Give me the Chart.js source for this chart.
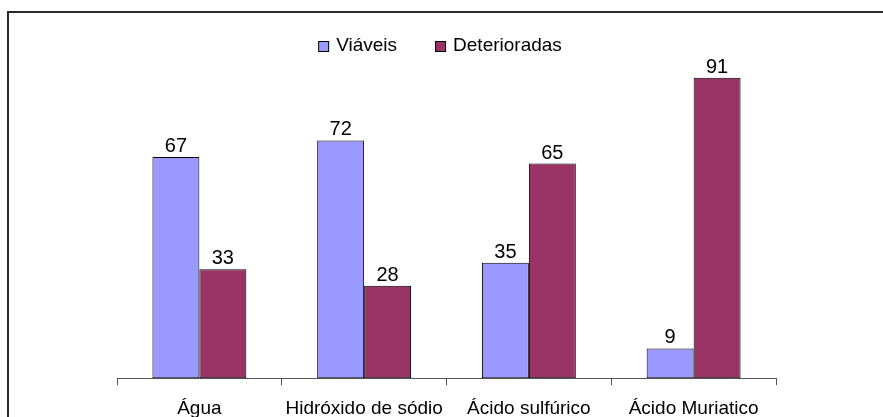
<!DOCTYPE html>
<html>
<head>
<meta charset="utf-8">
<script src="https://cdn.jsdelivr.net/npm/chart.js@4"></script>
<style>
  html, body { margin: 0; padding: 0; background: #fff; overflow: hidden; width: 883px; height: 417px; }
  #wrap { position: relative; width: 883px; height: 432px; }
</style>
</head>
<body>
<div id="wrap"><canvas id="chart"></canvas></div>
<script>
// --- data ---
const categories = ['Água', 'Hidróxido de sódio', 'Ácido sulfúrico', 'Ácido Muriatico'];
const viaveis = [67, 72, 35, 9];
const deterioradas = [33, 28, 65, 91];
const seriesNames = ['Viáveis', 'Deterioradas'];

const FONT = 'Liberation Sans, Arial, sans-serif';

// outer frame (left + top edges visible, the rest is cut off)
const framePlugin = {
    id: 'frame',
    beforeDraw(chart) {
        const ctx = chart.ctx;
        ctx.save();
        ctx.strokeStyle = '#2b2b2b';
        ctx.lineWidth = 2;
        ctx.strokeRect(8, 12, chart.width + 20, chart.height + 20);
        ctx.restore();
    }
};

// numbers above each bar
const valueLabels = {
    id: 'valueLabels',
    afterDatasetsDraw(chart) {
        const ctx = chart.ctx;
        ctx.save();
        ctx.font = '20px ' + FONT;
        ctx.fillStyle = '#000';
        ctx.textAlign = 'center';
        ctx.textBaseline = 'alphabetic';
        chart.data.datasets.forEach((ds, i) => {
            chart.getDatasetMeta(i).data.forEach((bar, j) => {
                ctx.fillText(String(ds.data[j]), bar.x, bar.y - 5);
            });
        });
        ctx.restore();
    }
};

// legend drawn to sit exactly where the original one is
const topLegend = {
    id: 'topLegend',
    afterDraw(chart) {
        const ctx = chart.ctx;
        ctx.save();
        ctx.font = '19px ' + FONT;
        const box = 10, gapText = 8, gapItem = 38;
        const items = chart.data.datasets.map(ds => ({
            label: ds.label, color: ds.backgroundColor, w: ctx.measureText(ds.label).width
        }));
        const total = items.reduce((s, it) => s + box + gapText + it.w, 0) + gapItem * (items.length - 1);
        let x = 440 - total / 2;
        const baseline = 51;
        items.forEach(it => {
            ctx.fillStyle = it.color;
            ctx.fillRect(x + 0.5, baseline - 10 + 0.5, box, box);
            ctx.strokeStyle = '#000';
            ctx.lineWidth = 1;
            ctx.strokeRect(x + 0.5, baseline - 10 + 0.5, box, box);
            ctx.fillStyle = '#000';
            ctx.textBaseline = 'alphabetic';
            ctx.fillText(it.label, x + box + gapText, baseline);
            x += box + gapText + it.w + gapItem;
        });
        ctx.restore();
    }
};

new Chart(document.getElementById('chart'), {
    type: 'bar',
    data: {
        labels: categories,
        datasets: [
            {
                label: seriesNames[0],
                data: viaveis,
                backgroundColor: '#9999FF',
                borderColor: '#000',
                borderWidth: 1,
                borderSkipped: false
            },
            {
                label: seriesNames[1],
                data: deterioradas,
                backgroundColor: '#993366',
                borderColor: '#000',
                borderWidth: 1,
                borderSkipped: false
            }
        ]
    },
    options: {
        responsive: true,
        maintainAspectRatio: false,
        animation: false,
        categoryPercentage: 0.57,
        barPercentage: 1,
        layout: { padding: { left: 117, right: 107, top: 48, bottom: 0 } },
        plugins: {
            legend: { display: false },
            tooltip: { enabled: false }
        },
        scales: {
            x: {
                border: { display: true, color: '#555', width: 1 },
                grid: { display: true, drawOnChartArea: false, drawTicks: true, tickLength: 7, color: '#555', offset: true },
                ticks: { color: '#000', font: { family: FONT, size: 19 }, padding: 12, maxRotation: 0, autoSkip: false }
            },
            y: {
                display: false,
                min: 0,
                max: 100
            }
        }
    },
    plugins: [framePlugin, valueLabels, topLegend]
});
</script>
</body>
</html>
